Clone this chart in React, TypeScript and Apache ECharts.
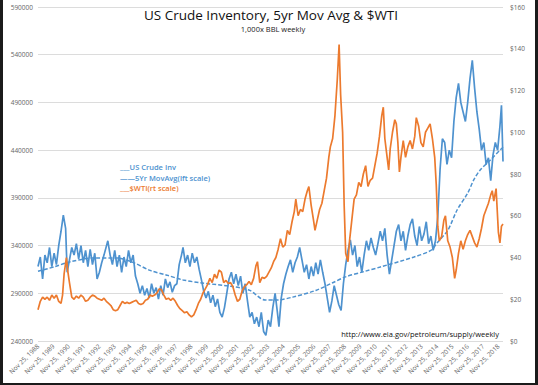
import React, { useEffect, useRef } from 'react';
import * as echarts from 'echarts';

// x positions are decimal years; the axis starts at Nov 25, 1988
const AXIS_START = 1988.9;
const AXIS_END = 2019.2;
const FIRST_LABEL_YEAR = 1988;

const leftAxis = { min: 240000, max: 590000, step: 50000 };
const rightAxis = { min: 0, max: 160, step: 20 };

const titleText = 'US Crude Inventory, 5yr Mov Avg & $WTI';
const subtitleText = '1,000x BBL weekly';
const sourceText = 'http://www.eia.gov/petroleum/supply/weekly';
const legendLines = ['___US Crude Inv', '——5Yr MovAvg(lft scale)', '___$WTI(rt scale)'];

// US crude inventory, 1,000 bbl
const crudeInv: [number, number][] = [
  [1988.9, 318000], [1989.05, 328000], [1989.2, 305000], [1989.35, 330000], [1989.5, 322000],
  [1989.65, 338000], [1989.8, 318000], [1989.95, 332000], [1990.1, 320000], [1990.25, 340000],
  [1990.4, 355000], [1990.55, 372000], [1990.7, 358000], [1990.8, 312000], [1990.95, 325000],
  [1991.1, 338000], [1991.25, 330000], [1991.4, 342000], [1991.55, 326000], [1991.7, 340000],
  [1991.85, 322000], [1992.0, 335000], [1992.15, 318000], [1992.3, 336000], [1992.45, 320000],
  [1992.6, 332000], [1992.75, 305000], [1992.9, 312000], [1993.05, 322000], [1993.2, 330000],
  [1993.45, 345000], [1993.6, 330000], [1993.75, 320000], [1993.9, 335000], [1994.05, 318000],
  [1994.2, 330000], [1994.35, 312000], [1994.5, 328000], [1994.65, 318000], [1994.8, 335000],
  [1994.95, 322000], [1995.1, 330000], [1995.25, 308000], [1995.4, 300000], [1995.55, 290000],
  [1995.7, 298000], [1995.85, 288000], [1996.0, 295000], [1996.15, 285000], [1996.3, 300000],
  [1996.45, 290000], [1996.6, 296000], [1996.75, 284000], [1996.9, 298000], [1997.05, 288000],
  [1997.2, 305000], [1997.35, 296000], [1997.5, 302000], [1997.65, 291000], [1997.8, 298000],
  [1997.95, 300000], [1998.1, 320000], [1998.25, 330000], [1998.35, 338000], [1998.5, 322000],
  [1998.65, 330000], [1998.8, 318000], [1998.95, 332000], [1999.1, 322000], [1999.25, 328000],
  [1999.4, 315000], [1999.55, 304000], [1999.7, 292000], [1999.85, 285000], [2000.0, 292000],
  [2000.15, 280000], [2000.3, 288000], [2000.45, 276000], [2000.6, 284000], [2000.75, 270000],
  [2000.9, 265000], [2001.05, 275000], [2001.2, 290000], [2001.35, 305000], [2001.5, 312000],
  [2001.65, 300000], [2001.8, 310000], [2001.95, 298000], [2002.1, 308000], [2002.25, 290000],
  [2002.4, 300000], [2002.55, 282000], [2002.7, 265000], [2002.85, 270000], [2003.0, 258000],
  [2003.15, 265000], [2003.3, 255000], [2003.45, 270000], [2003.6, 250000], [2003.75, 246000],
  [2003.9, 262000], [2004.05, 255000], [2004.2, 275000], [2004.35, 290000], [2004.5, 270000],
  [2004.6, 255000], [2004.75, 285000], [2004.9, 300000], [2005.05, 310000], [2005.2, 318000],
  [2005.35, 325000], [2005.5, 312000], [2005.65, 322000], [2005.8, 328000], [2005.95, 338000],
  [2006.1, 325000], [2006.25, 312000], [2006.4, 320000], [2006.55, 305000], [2006.7, 318000],
  [2006.85, 308000], [2007.0, 322000], [2007.15, 310000], [2007.3, 325000], [2007.45, 312000],
  [2007.6, 300000], [2007.75, 285000], [2007.9, 270000], [2008.05, 282000], [2008.2, 298000],
  [2008.35, 288000], [2008.5, 278000], [2008.65, 272000], [2008.8, 300000], [2008.95, 320000],
  [2009.1, 335000], [2009.25, 346000], [2009.4, 330000], [2009.55, 340000], [2009.7, 318000],
  [2009.85, 328000], [2010.0, 312000], [2010.15, 330000], [2010.3, 345000], [2010.45, 335000],
  [2010.6, 348000], [2010.75, 338000], [2010.9, 330000], [2011.05, 342000], [2011.2, 355000],
  [2011.35, 345000], [2011.5, 358000], [2011.65, 330000], [2011.8, 310000], [2011.95, 325000],
  [2012.1, 340000], [2012.25, 355000], [2012.4, 362000], [2012.55, 345000], [2012.7, 355000],
  [2012.85, 335000], [2013.0, 350000], [2013.15, 362000], [2013.3, 368000], [2013.45, 350000],
  [2013.6, 340000], [2013.75, 360000], [2013.9, 345000], [2014.05, 352000], [2014.2, 365000],
  [2014.35, 342000], [2014.5, 350000], [2014.65, 335000], [2014.8, 345000], [2014.95, 370000],
  [2015.1, 420000], [2015.25, 452000], [2015.4, 448000], [2015.55, 425000], [2015.7, 440000],
  [2015.85, 432000], [2016.0, 470000], [2016.15, 495000], [2016.3, 510000], [2016.45, 490000],
  [2016.6, 480000], [2016.75, 470000], [2016.9, 490000], [2017.05, 515000], [2017.2, 534000],
  [2017.35, 505000], [2017.5, 480000], [2017.65, 462000], [2017.8, 440000], [2017.95, 448000],
  [2018.1, 425000], [2018.25, 432000], [2018.4, 408000], [2018.55, 435000], [2018.7, 448000],
  [2018.85, 440000], [2019.0, 465000], [2019.1, 487000], [2019.2, 428000],
];

// 5 year moving average, 1,000 bbl
const movAvg5y: [number, number][] = [
  [1988.9, 313000], [1990.0, 318000], [1991.0, 323000], [1992.5, 327000], [1994.0, 327000],
  [1995.0, 323000], [1996.2, 314000], [1997.3, 309000], [1998.35, 304000], [1999.5, 301000],
  [2001.6, 297000], [2002.7, 293000], [2003.7, 283000], [2004.5, 283000], [2005.5, 286000],
  [2007.0, 293000], [2008.1, 301000], [2008.9, 307000], [2010.2, 313000], [2011.2, 317500],
  [2013.4, 328000], [2014.5, 335000], [2014.9, 342700], [2015.6, 356000], [2016.2, 377000],
  [2016.9, 395000], [2017.3, 409000], [2017.7, 419000], [2018.4, 430000], [2019.0, 440000],
  [2019.2, 443000],
];

// WTI, $/bbl
const wti: [number, number][] = [
  [1988.9, 15], [1989.05, 19], [1989.2, 21], [1989.35, 20], [1989.5, 21], [1989.65, 19.5],
  [1989.8, 22], [1989.95, 20.5], [1990.1, 22], [1990.25, 19], [1990.4, 18], [1990.5, 22],
  [1990.6, 32], [1990.75, 40], [1990.85, 33], [1990.95, 28], [1991.1, 21], [1991.25, 20],
  [1991.4, 21.5], [1991.55, 20.5], [1991.7, 22], [1991.85, 21], [1992.0, 19], [1992.15, 19.5],
  [1992.3, 21], [1992.45, 22], [1992.6, 21.5], [1992.75, 20.5], [1992.9, 20], [1993.05, 19.5],
  [1993.2, 20.5], [1993.35, 19], [1993.5, 18], [1993.65, 17], [1993.8, 15], [1993.95, 14.5],
  [1994.1, 15], [1994.25, 17], [1994.4, 19], [1994.55, 18], [1994.7, 18.5], [1994.85, 18],
  [1995.0, 18.5], [1995.15, 19], [1995.3, 19.5], [1995.45, 18], [1995.6, 17.5], [1995.75, 18],
  [1995.9, 19.5], [1996.05, 20], [1996.2, 22], [1996.35, 21.5], [1996.5, 22], [1996.65, 23],
  [1996.8, 25], [1996.95, 24.5], [1997.1, 22], [1997.25, 20], [1997.4, 20.5], [1997.55, 19.5],
  [1997.7, 20.5], [1997.85, 19], [1998.0, 17], [1998.15, 15.5], [1998.3, 14.5], [1998.45, 13.5],
  [1998.6, 14], [1998.75, 12.5], [1998.9, 11.5], [1999.05, 12.5], [1999.2, 15], [1999.35, 18],
  [1999.5, 20], [1999.65, 23], [1999.8, 25], [1999.95, 27], [2000.1, 30], [2000.25, 28],
  [2000.4, 32], [2000.55, 30], [2000.7, 34], [2000.85, 33], [2001.0, 28], [2001.15, 29],
  [2001.3, 27.5], [2001.45, 28], [2001.6, 26], [2001.75, 22], [2001.9, 19], [2002.05, 20],
  [2002.2, 24], [2002.35, 26], [2002.5, 27], [2002.65, 28.5], [2002.8, 27], [2002.95, 30],
  [2003.1, 36], [2003.2, 38], [2003.35, 28], [2003.5, 30.5], [2003.65, 30], [2003.8, 31],
  [2003.95, 33], [2004.1, 35], [2004.25, 38], [2004.4, 40], [2004.55, 44], [2004.7, 49],
  [2004.85, 45], [2005.0, 46], [2005.15, 53], [2005.3, 51], [2005.45, 57], [2005.6, 62],
  [2005.7, 68], [2005.85, 60], [2006.0, 63], [2006.15, 62], [2006.3, 68], [2006.45, 72],
  [2006.55, 74], [2006.7, 65], [2006.85, 58], [2006.95, 53], [2007.1, 58], [2007.25, 63],
  [2007.4, 66], [2007.55, 72], [2007.7, 78], [2007.85, 88], [2007.95, 93], [2008.1, 97],
  [2008.25, 108], [2008.4, 125], [2008.52, 142], [2008.62, 118], [2008.75, 100], [2008.85, 65],
  [2008.95, 42], [2009.1, 38], [2009.2, 48], [2009.35, 58], [2009.5, 68], [2009.65, 70],
  [2009.8, 76], [2009.95, 74], [2010.1, 80], [2010.25, 84], [2010.4, 74], [2010.55, 77],
  [2010.7, 78], [2010.85, 84], [2011.0, 90], [2011.15, 98], [2011.3, 108], [2011.4, 112],
  [2011.5, 97], [2011.65, 88], [2011.75, 82], [2011.85, 92], [2012.0, 100], [2012.15, 106],
  [2012.25, 104], [2012.35, 95], [2012.45, 81], [2012.55, 88], [2012.7, 96], [2012.85, 88],
  [2013.0, 93], [2013.15, 96], [2013.3, 92], [2013.45, 98], [2013.55, 107], [2013.7, 103],
  [2013.85, 95], [2014.0, 93], [2014.15, 100], [2014.3, 102], [2014.45, 104], [2014.6, 97],
  [2014.75, 88], [2014.85, 75], [2014.95, 55], [2015.05, 48], [2015.2, 50], [2015.35, 58],
  [2015.45, 60], [2015.6, 48], [2015.75, 45], [2015.9, 40], [2016.05, 30], [2016.15, 34],
  [2016.3, 42], [2016.45, 48], [2016.6, 44], [2016.75, 48], [2016.9, 51], [2017.05, 53],
  [2017.2, 50], [2017.35, 47], [2017.5, 45], [2017.65, 49], [2017.8, 54], [2017.95, 60],
  [2018.1, 63], [2018.25, 66], [2018.4, 70], [2018.5, 72], [2018.6, 67], [2018.75, 73],
  [2018.8, 66], [2018.9, 52], [2019.0, 47], [2019.1, 55], [2019.2, 56],
];

const BLUE = '#4e92cf';
const ORANGE = '#ec7a2e';
const FONT = '"Open Sans", "Noto Sans", sans-serif';

const toAxis = (pts: [number, number][]) => pts.map(([t, v]) => [t - AXIS_START, v]);

export default function App() {
  const ref = useRef<HTMLDivElement>(null);
  useEffect(() => {
    if (!ref.current) return;
    const chart = echarts.init(ref.current, undefined, { renderer: 'svg' });
    chart.setOption({
      animation: false,
      backgroundColor: '#ffffff',
      grid: { left: 35, right: 32, top: 7, bottom: 42, containLabel: false },
      xAxis: {
        type: 'value',
        min: 0,
        max: AXIS_END - AXIS_START,
        interval: 1,
        axisLine: { show: false },
        axisTick: { show: false },
        splitLine: { show: false },
        axisLabel: {
          rotate: 45,
          margin: 4,
          fontSize: 6.5,
          color: '#666',
          fontFamily: FONT,
          showMaxLabel: false,
          formatter: (v: number) =>
            Math.abs(v - Math.round(v)) < 1e-6 ? `Nov 25, ${FIRST_LABEL_YEAR + Math.round(v)}` : '',
        },
      },
      yAxis: [
        {
          type: 'value',
          min: leftAxis.min,
          max: leftAxis.max,
          interval: leftAxis.step,
          axisLine: { show: false },
          axisTick: { show: false },
          splitLine: { lineStyle: { color: '#dcdcdc', width: 1 } },
          axisLabel: {
            fontSize: 6.5,
            color: '#666',
            margin: 5,
            fontFamily: FONT,
            formatter: (v: number) => String(Math.round(v)),
          },
        },
        {
          type: 'value',
          min: rightAxis.min,
          max: rightAxis.max,
          interval: rightAxis.step,
          axisLine: { show: false },
          axisTick: { show: false },
          splitLine: { show: false },
          axisLabel: {
            fontSize: 6.5,
            color: '#666',
            margin: 7,
            fontFamily: FONT,
            formatter: (v: number) => '$' + v,
          },
        },
      ],
      series: [
        {
          name: 'US Crude Inv',
          type: 'line',
          yAxisIndex: 0,
          data: toAxis(crudeInv),
          symbol: 'none',
          lineStyle: { color: BLUE, width: 1.7 },
        },
        {
          name: '5Yr MovAvg',
          type: 'line',
          yAxisIndex: 0,
          data: toAxis(movAvg5y),
          symbol: 'none',
          smooth: 0.3,
          lineStyle: { color: BLUE, width: 1.5, type: [4, 2] },
        },
        {
          name: '$WTI',
          type: 'line',
          yAxisIndex: 1,
          data: toAxis(wti),
          symbol: 'none',
          lineStyle: { color: ORANGE, width: 1.7 },
        },
      ],
      graphic: [
        {
          type: 'text', x: 268, y: 15,
          style: { text: titleText, fontSize: 13.5, fontFamily: FONT, fill: '#111', align: 'center', verticalAlign: 'middle' },
        },
        {
          type: 'text', x: 270, y: 29,
          style: { text: subtitleText, fontSize: 7.5, fontFamily: FONT, fill: '#222', align: 'center', verticalAlign: 'middle' },
        },
        ...legendLines.map((t, i) => ({
          type: 'text', x: 117, y: [167, 178, 188][i],
          style: {
            text: t, fontSize: 7.5, fontFamily: FONT, fontWeight: 600,
            fill: i === 2 ? ORANGE : BLUE, align: 'left', verticalAlign: 'middle',
          },
        })),
        {
          type: 'text', x: 496, y: 334,
          style: { text: sourceText, fontSize: 7.5, fontFamily: FONT, fill: '#111', align: 'right', verticalAlign: 'middle' },
        },
      ],
    });
    return () => chart.dispose();
  }, []);

  return (
    <div style={{ position: 'fixed', left: 0, top: 0, width: 538, height: 385, background: '#1b1b1b' }}>
      <div ref={ref} style={{ position: 'absolute', left: 3, top: 0, width: 532, height: 383 }} />
    </div>
  );
}
